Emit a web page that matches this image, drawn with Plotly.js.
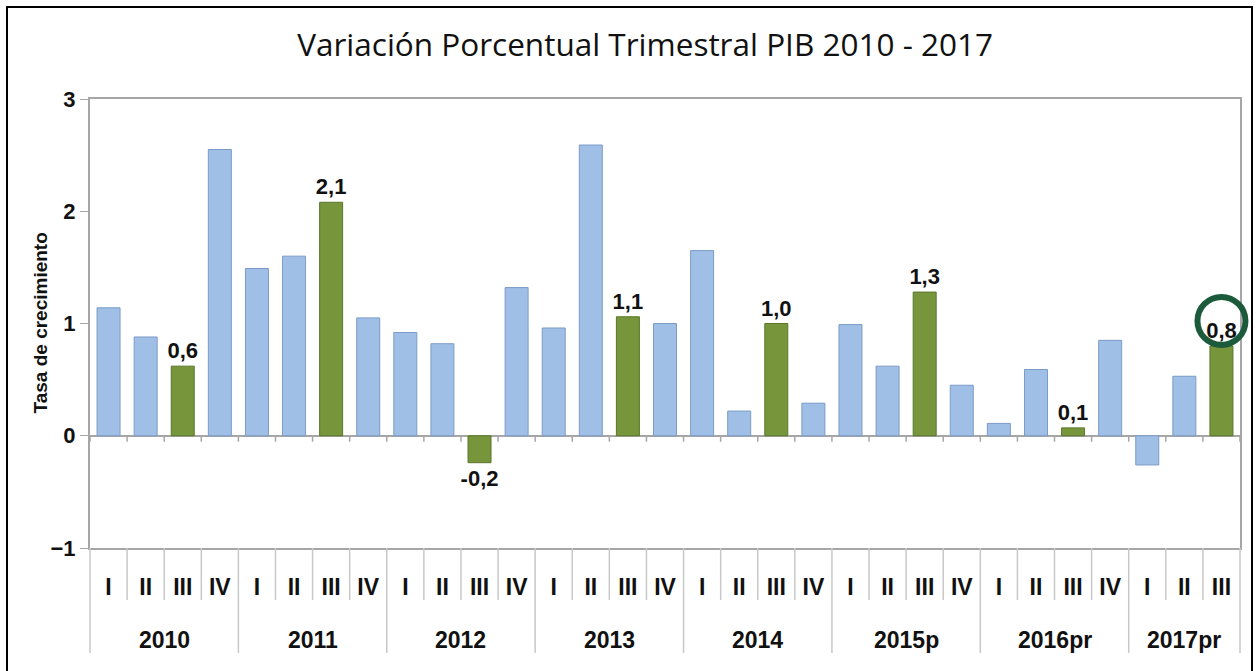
<!DOCTYPE html>
<html>
<head>
<meta charset="utf-8">
<script src="https://cdn.plot.ly/plotly-3.0.1.min.js"></script>
<style>
	html, body { margin: 0; padding: 0; background: #fff; }
	#chart { position: absolute; left: 0; top: 0; width: 1260px; height: 671px; }
	#frame { position: absolute; left: 6px; top: 6px; width: 1247px; height: 720px; border: 2px solid #000; box-sizing: border-box; pointer-events: none; }
</style>
</head>
<body>
<div id="chart"></div>
<div id="frame"></div>
<script>
// year groups (outer level) and quarters (inner level)
const yearLabels = ['2010', '2011', '2012', '2013', '2014', '2015p', '2016pr', '2017pr'];
const quarterLabels = ['I', 'II', 'III', 'IV'];

// quarterly GDP growth, 2010-I .. 2017-III
const growth = [
	1.14, 0.88, 0.62, 2.55,
	1.49, 1.60, 2.08, 1.05,
	0.92, 0.82, -0.24, 1.32,
	0.96, 2.59, 1.06, 1.00,
	1.65, 0.22, 1.00, 0.29,
	0.99, 0.62, 1.28, 0.45,
	0.11, 0.59, 0.07, 0.85,
	-0.26, 0.53, 0.80
];

// quarter that gets highlighted (green + label)
const highlightQuarter = 'III';

const blue = '#A0BFE6', blueEdge = '#7B9BC6';
const green = '#77953A', greenEdge = '#5A772B';
const frameGrey = '#A6A6A6';
const sepGrey = '#C8C8C8';
const boldFont = 'Liberation Sans, Arial, sans-serif';

/**
 * Layout sizes (px) - plot box and category band below it
 */
const M = { l: 90, r: 20, t: 99, b: 123 };
const plotW = 1260 - M.l - M.r;
const plotH = 671 - M.t - M.b;
const yPerPx = 4 / plotH; // y range is -1..3
const quarterBand = 52;
const yearBand = 105;

/**
 * build categories: one slot per quarter
 */
const nQ = quarterLabels.length;
const xCats = [], xQuarter = [];
growth.forEach(( v, i ) => {
	const year = yearLabels[Math.floor(i / nQ)];
	const q = quarterLabels[i % nQ];
	xCats.push(year + ' ' + q);
	xQuarter.push(q);
});

const isHighlight = xQuarter.map(q => q === highlightQuarter);

const trace = {
	type: 'bar',
	x: xCats,
	y: growth,
	width: 0.62,
	marker: {
		color: isHighlight.map(h => h ? green : blue),
		line: { color: isHighlight.map(h => h ? greenEdge : blueEdge), width: 1 },
	},
	text: growth.map(( v, i ) => isHighlight[i] ? v.toFixed(1).replace('.', ',') : ''),
	textposition: 'outside',
	constraintext: 'none',
	textfont: { family: boldFont, size: 22, color: '#111', weight: 'bold' },
	cliponaxis: false,
	hoverinfo: 'x+y',
};

/**
 * separators in the category band: short between quarters, long between years
 * plus the little tick marks sitting on the zero line
 */
const n = growth.length;
const shapes = [];
for( let i = 0; i <= n; i++ ){
	const yearEdge = (i % nQ === 0) || i === n;
	shapes.push({
		type: 'line', xref: 'paper', yref: 'paper',
		x0: i / n, x1: i / n,
		y0: 0, y1: -(yearEdge ? yearBand : quarterBand) / plotH,
		line: { color: sepGrey, width: 1.5 },
	});
	shapes.push({
		type: 'line', xref: 'paper', yref: 'y',
		x0: i / n, x1: i / n,
		y0: 0, y1: -6 * yPerPx,
		line: { color: frameGrey, width: 1.5 },
	});
}

// ring around the latest value
const last = growth[n - 1];
const cx = (n - 0.5) / n;
const ringR = 24;
const cy = last + 25 * yPerPx;
shapes.push({
	type: 'circle', xref: 'paper', yref: 'y',
	x0: cx - ringR / plotW, x1: cx + ringR / plotW,
	y0: cy - ringR * yPerPx, y1: cy + ringR * yPerPx,
	line: { color: '#1C5A3C', width: 6 },
});

/**
 * year labels centred under each group of quarters
 */
const annotations = yearLabels.map(( year, k ) => {
	const count = Math.min(nQ, n - k * nQ);
	return {
		xref: 'x', yref: 'paper',
		x: k * nQ + (count - 1) / 2,
		y: -92 / plotH,
		yanchor: 'middle',
		text: year,
		showarrow: false,
		font: { family: boldFont, size: 23, color: '#111', weight: 'bold' },
	};
});

// y axis title, placed by hand to sit closer to the tick labels
annotations.push({
	xref: 'paper', yref: 'paper',
	x: -50 / plotW, y: 0.5,
	xanchor: 'center', yanchor: 'middle',
	textangle: -90,
	text: 'Tasa de crecimiento',
	showarrow: false,
	font: { family: boldFont, size: 19, color: '#111', weight: 'bold' },
});

const layout = {
	width: 1260,
	height: 671,
	margin: M,
	paper_bgcolor: '#fff',
	plot_bgcolor: '#fff',
	showlegend: false,
	title: {
		text: 'Variación Porcentual Trimestral PIB 2010 - 2017',
		font: { family: 'Open Sans, sans-serif', size: 31.5, color: '#111' },
		x: 0.512, xanchor: 'center',
		y: 0.933, yanchor: 'middle',
	},
	xaxis: {
		type: 'category',
		range: [ -0.5, n - 0.5 ],
		tickvals: xCats,
		ticktext: xQuarter,
		showline: true, mirror: true,
		linecolor: frameGrey, linewidth: 2,
		showgrid: false,
		ticks: '',
		ticklabelstandoff: 17,
		tickfont: { family: boldFont, size: 23, color: '#111', weight: 'bold' },
	},
	yaxis: {
		range: [ -1, 3 ],
		tick0: 0, dtick: 1,
		showline: true, mirror: true,
		linecolor: frameGrey, linewidth: 2,
		ticks: 'outside', ticklen: 8, tickcolor: frameGrey,
		showgrid: false,
		zeroline: true, zerolinecolor: frameGrey, zerolinewidth: 2,
		tickfont: { family: boldFont, size: 22, color: '#111', weight: 'bold' },
	},
	shapes: shapes,
	annotations: annotations,
};

Plotly.newPlot('chart', [ trace ], layout, { displayModeBar: false, staticPlot: true });
</script>
</body>
</html>
